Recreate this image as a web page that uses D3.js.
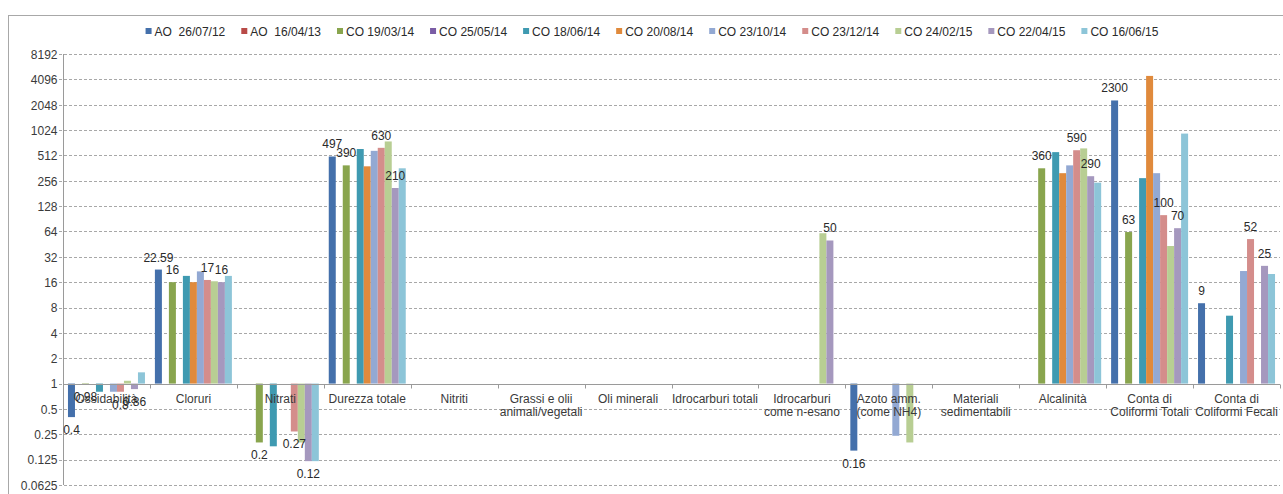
<!DOCTYPE html>
<html>
<head>
<meta charset="utf-8">
<script src="https://cdn.jsdelivr.net/npm/d3@7"></script>
<style>
    body { margin: 0; background: #fff; }
    svg { font-family: "Liberation Sans", Arial, sans-serif; }
    .grid line { stroke: #a8a8a8; stroke-dasharray: 3,2; }
    .axis path, .axis line { stroke: #9a9a9a; }
    .axis text { fill: #3a3a3a; font-size: 12px; }
    .label { fill: #2a2a2a; font-size: 12px; }
    .legend text { fill: #2a2a2a; font-size: 12px; white-space: pre; }
</style>
</head>
<body>
<div id="vis"></div>
<script>
// categories on the x axis ("\n" = line break in the label)
var categories = [
    "Ossidabilità", "Cloruri", "Nitrati", "Durezza totale", "Nitriti",
    "Grassi e olii\nanimali/vegetali", "Oli minerali", "Idrocarburi totali",
    "Idrocarburi\ncome n-esano", "Azoto amm.\n(come NH4)", "Materiali\nsedimentabili",
    "Alcalinità", "Conta di\nColiformi Totali", "Conta di\nColiformi Fecali"
];

var seriesNames = [
    "AO  26/07/12", "AO  16/04/13", "CO 19/03/14", "CO 25/05/14", "CO 18/06/14",
    "CO 20/08/14", "CO 23/10/14", "CO 23/12/14", "CO 24/02/15", "CO 22/04/15", "CO 16/06/15"
];

var colors = [
    "#4470AB", "#B84A47", "#89A54E", "#7A5CA5", "#3F9AB1",
    "#E08A3C", "#93A9D3", "#D48D8B", "#B8CE93", "#A598BE", "#8DC5D8"
];

// one array per series, in category order (null = no value)
var ao260712 = [0.4, 22.59, null, 497, null, null, null, null, null, 0.16, null, null, 2300, 9];
var ao160413 = [null, null, null, null, null, null, null, null, null, null, null, null, null, null];
var co190314 = [0.98, 16, 0.2, 390, null, null, null, null, null, null, null, 360, 63, null];
var co250514 = [null, null, null, null, null, null, null, null, null, null, null, null, null, null];
var co180614 = [0.8, 19, 0.18, 610, null, null, null, null, null, null, null, 560, 275, 6.4];
var co200814 = [null, 16, null, 380, null, null, null, null, null, null, null, 315, 4500, null];
var co231014 = [0.8, 21.5, null, 580, null, null, null, null, null, 0.24, null, 390, 315, 21.7];
var co231214 = [0.8, 17, 0.27, 630, null, null, null, null, null, null, null, 590, 100, 52];
var co240215 = [1.08, 16.4, 0.2, 750, null, null, null, null, 61, 0.2, null, 620, 43, null];
var co220415 = [0.86, 16, 0.12, 210, null, null, null, null, 50, null, null, 290, 70, 25];
var co160615 = [1.36, 19, 0.12, 360, null, null, null, null, null, null, null, 243, 930, 20];

var seriesValues = [ao260712, ao160413, co190314, co250514, co180614, co200814,
    co231014, co231214, co240215, co220415, co160615];

// series whose values are printed on the chart
var labelledSeries = [0, 2, 7, 9];

var yTicks = [0.0625, 0.125, 0.25, 0.5, 1, 2, 4, 8, 16, 32, 64, 128, 256, 512, 1024, 2048, 4096, 8192];

var width = 1283,
    height = 494,
    plot = { left: 63, right: 1280, top: 54, bottom: 485 };

var svg = d3.select("#vis").append("svg")
    .attr("width", width)
    .attr("height", height);

// outer chart border
svg.append("rect")
    .attr("x", 8.5).attr("y", 15.5)
    .attr("width", width).attr("height", height)
    .attr("fill", "none")
    .attr("stroke", "#a8a8a8");

var y = d3.scaleLog().base(2)
    .domain([0.0625, 8192])
    .range([plot.bottom, plot.top]);

var x = d3.scaleBand()
    .domain(d3.range(categories.length))
    .range([plot.left, plot.right]);

var xs = d3.scaleBand()
    .domain(d3.range(seriesNames.length))
    .range([0, x.bandwidth()])
    .paddingOuter(0.71);

// dashed gridlines
svg.append("g")
    .attr("class", "grid")
    .selectAll("line")
    .data(yTicks)
    .enter()
    .append("line")
    .attr("x1", plot.left - 4)
    .attr("x2", plot.right)
    .attr("y1", function (d) { return Math.round(y(d)) + 0.5; })
    .attr("y2", function (d) { return Math.round(y(d)) + 0.5; });

var yAxis = d3.axisLeft(y)
    .tickValues(yTicks)
    .tickFormat(function (d) { return String(d); })
    .tickSize(0)
    .tickPadding(6);

svg.append("g")
    .attr("class", "y axis")
    .attr("transform", "translate(" + (plot.left + 0.5) + ",0)")
    .call(yAxis)
    .call(function (g) { g.select(".domain").attr("d", "M0," + plot.bottom + "V" + plot.top); })
    .selectAll("text")
    .attr("dy", "0.36em");

// bars grow from the value 1
var base = y(1);

seriesValues.forEach(function (vals, s) {
    var pts = vals.map(function (v, c) { return { c: c, v: v }; })
        .filter(function (d) { return d.v != null; });

    svg.append("g").selectAll("rect")
        .data(pts)
        .enter()
        .append("rect")
        .attr("x", function (d) { return x(d.c) + xs(s); })
        .attr("width", xs.bandwidth())
        .attr("y", function (d) { return Math.min(y(d.v), base); })
        .attr("height", function (d) { return Math.abs(y(d.v) - base); })
        .style("fill", colors[s]);
});

// x axis along the value 1
var xAxis = d3.axisBottom(x)
    .tickSize(0)
    .tickPadding(9)
    .tickFormat("");

var gx = svg.append("g")
    .attr("class", "x axis")
    .attr("transform", "translate(0," + (Math.round(base) + 0.5) + ")")
    .call(xAxis);

gx.select(".domain").attr("d", "M" + plot.left + ",0H" + plot.right);

gx.selectAll(".tick").each(function (c) {
    var lines = categories[c].split("\n");
    var t = d3.select(this).select("text").attr("y", 0).attr("dy", null);
    lines.forEach(function (line, i) {
        t.append("tspan")
            .attr("x", 0)
            .attr("y", 18 + i * 13)
            .text(line);
    });
});

// small ticks between categories
gx.selectAll(".sep")
    .data(d3.range(categories.length + 1))
    .enter()
    .append("line")
    .attr("class", "sep")
    .attr("x1", function (i) { return Math.round(plot.left + i * x.step()) + 0.5; })
    .attr("x2", function (i) { return Math.round(plot.left + i * x.step()) + 0.5; })
    .attr("y1", 0)
    .attr("y2", 4);

// value labels
labelledSeries.forEach(function (s) {
    var pts = seriesValues[s].map(function (v, c) { return { c: c, v: v }; })
        .filter(function (d) { return d.v != null; });

    svg.append("g").selectAll("text")
        .data(pts)
        .enter()
        .append("text")
        .attr("class", "label")
        .attr("text-anchor", "middle")
        .attr("x", function (d) { return x(d.c) + xs(s) + xs.bandwidth() / 2; })
        .attr("y", function (d) {
            return d.v >= 1 ? y(d.v) - 8 : y(d.v) + 17;
        })
        .text(function (d) { return d.v; });
});

// legend
var legend = svg.append("g").attr("class", "legend");
var lx = 0;
seriesNames.forEach(function (name, s) {
    var item = legend.append("g").attr("transform", "translate(" + lx + ",0)");
    item.append("rect")
        .attr("x", 0).attr("y", 28)
        .attr("width", 6).attr("height", 6)
        .style("fill", colors[s]);
    var t = item.append("text")
        .attr("x", 9).attr("y", 35.5)
        .text(name);
    lx += 9 + t.node().getComputedTextLength() + 16;
});
lx -= 16;
legend.attr("transform", "translate(" + (652 - lx / 2) + ",0)");
</script>
</body>
</html>
